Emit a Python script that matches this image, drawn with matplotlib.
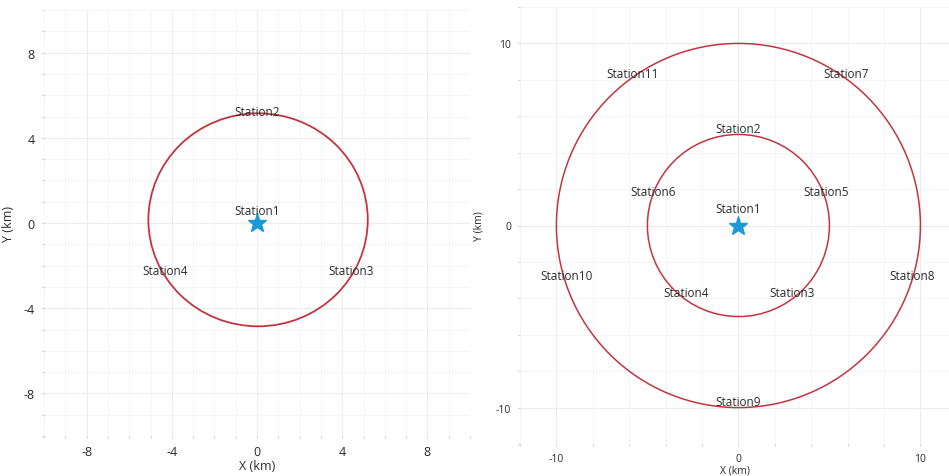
import matplotlib as mpl
import matplotlib.pyplot as plt
import numpy as np
from matplotlib.patches import Ellipse, Circle
from matplotlib.ticker import MultipleLocator

mpl.rcParams.update(
    {
        "font.family": ["Open Sans", "DejaVu Sans"],
        "axes.unicode_minus": False,
        "axes.spines.top": False,
        "axes.spines.right": False,
        "axes.spines.left": False,
        "axes.spines.bottom": False,
    }
)

RED = "#c23540"
STAR = "#1c9ad6"
TXT = "#2a2a2a"

# left panel: one ring of stations
left_names = ["Station2", "Station3", "Station4"]
left_x = [0.0, 4.4, -4.3]
left_y = [5.25, -2.25, -2.25]
left_ring = (0.05, 0.15, 10.3, 10.0)  # cx, cy, width, height

# right panel: two rings of stations
right_names = ["Station2", "Station3", "Station4", "Station5", "Station6",
               "Station7", "Station8", "Station9", "Station10", "Station11"]
right_x = [0.0, 2.95, -2.85, 4.8, -4.7, 5.9, 9.55, 0.0, -9.45, -5.8]
right_y = [5.3, -3.7, -3.7, 1.85, 1.85, 8.35, -2.75, -9.65, -2.75, 8.35]
right_radii = [5.0, 10.0]

center = (0.0, 0.0)


def style_axis(ax, minor, major, fs):
    ax.xaxis.set_major_locator(MultipleLocator(major))
    ax.yaxis.set_major_locator(MultipleLocator(major))
    ax.xaxis.set_minor_locator(MultipleLocator(minor))
    ax.yaxis.set_minor_locator(MultipleLocator(minor))
    ax.grid(True, which="major", color="#ececec", lw=0.8, zorder=0)
    ax.grid(True, which="minor", color="#f5f5f5", lw=0.7, zorder=0)
    ax.tick_params(which="both", length=1.5, width=0.8, color="#cccccc",
                   labelsize=fs, labelcolor=TXT, pad=5)
    ax.set_axisbelow(True)


fig = plt.figure(figsize=(9.49, 4.77), dpi=100)

ax0 = fig.add_axes([44 / 949, 40 / 477, 426 / 949, 426 / 477])
ax0.set_xlim(-10, 10)
ax0.set_ylim(-10, 10)
style_axis(ax0, 1, 4, 9)
cx, cy, w, h = left_ring
ax0.add_patch(Ellipse((cx, cy), w, h, fill=False, ec=RED, lw=1.3, zorder=3))
ax0.plot(*center, marker="*", ms=14, color=STAR, mec=STAR, zorder=4)
ax0.text(center[0], center[1] + 0.6, "Station1", ha="center", va="center",
         fontsize=8.5, color=TXT, zorder=5)
for n, x, y in zip(left_names, left_x, left_y):
    ax0.text(x, y, n, ha="center", va="center", fontsize=8.5, color=TXT, zorder=5)
ax0.set_xlabel("X (km)", fontsize=9, color=TXT, labelpad=1)
ax0.set_ylabel("Y (km)", fontsize=9, color=TXT, labelpad=6)

ax1 = fig.add_axes([520 / 949, 32 / 477, 429 / 949, 437 / 477])
ax1.set_xlim(-12, 11.57)
ax1.set_ylim(-12, 12)
style_axis(ax1, 2, 10, 7.5)
for r in right_radii:
    ax1.add_patch(Circle(center, r, fill=False, ec=RED, lw=1.1, zorder=3))
ax1.plot(*center, marker="*", ms=14, color=STAR, mec=STAR, zorder=4)
ax1.text(center[0], center[1] + 0.95, "Station1", ha="center", va="center",
         fontsize=8.5, color=TXT, zorder=5)
for n, x, y in zip(right_names, right_x, right_y):
    ax1.text(x, y, n, ha="center", va="center", fontsize=8.5, color=TXT, zorder=5)
ax1.set_xlabel("X (km)", fontsize=7.5, color=TXT, labelpad=0)
ax1.set_ylabel("Y (km)", fontsize=7.5, color=TXT, labelpad=8)

fig.savefig("out.png", dpi=100)
